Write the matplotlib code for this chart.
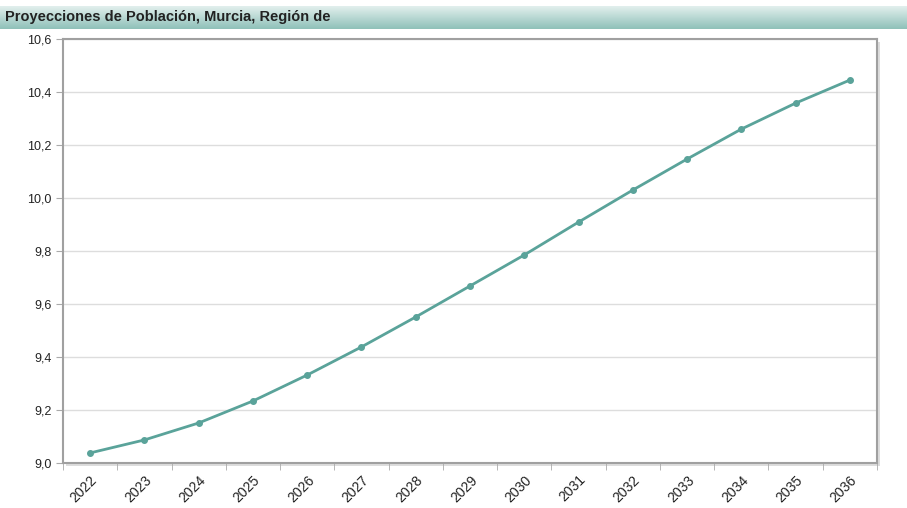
import matplotlib.pyplot as plt
import numpy as np
from matplotlib.colors import LinearSegmentedColormap

years = ["2022", "2023", "2024", "2025", "2026", "2027", "2028", "2029",
         "2030", "2031", "2032", "2033", "2034", "2035", "2036"]
# population, millions
population = [9.038, 9.087, 9.151, 9.234, 9.332, 9.438, 9.551, 9.668,
              9.785, 9.909, 10.030, 10.147, 10.260, 10.358, 10.445]

title = "Proyecciones de Población, Murcia, Región de"
line_color = "#5aa39a"

fig = plt.figure(figsize=(9.07, 5.08), dpi=100)

# header band with vertical gradient
hdr = fig.add_axes([0, 1 - 29 / 508, 1, 23 / 508])
grad = np.linspace(0, 1, 50).reshape(-1, 1)
cmap = LinearSegmentedColormap.from_list("hdr", ["#e2efed", "#8fc1b9"])
hdr.imshow(grad, aspect="auto", cmap=cmap, extent=[0, 1, 0, 1], origin="upper")
hdr.set_axis_off()
hdr.text(0.006, 0.5, title, fontsize=10.5, fontweight="bold", color="#222222",
         family="Liberation Sans", va="center", ha="left", transform=hdr.transAxes)

ax = fig.add_axes([63 / 907, 45 / 508, 814 / 907, 424 / 508])
x = np.arange(len(years))
ax.plot(x, population, color=line_color, lw=2, marker="o", ms=4,
        mec=line_color, mfc=line_color, zorder=3)

ax.set_xlim(-0.5, len(years) - 0.5)
ax.set_ylim(9.0, 10.6)
yt = np.arange(9.0, 10.61, 0.2)
ax.set_yticks(yt)
ax.set_yticklabels([f"{v:.1f}".replace(".", ",") for v in yt],
                   fontsize=9, family="Liberation Sans", color="#222222")
ax.set_xticks(x)
ax.set_xticklabels(years, rotation=45, ha="right", rotation_mode="anchor",
                   fontsize=10, family="Liberation Sans", color="#222222")
ax.set_xticks(np.arange(-0.5, len(years)), minor=True)
ax.tick_params(axis="x", which="major", length=0, pad=7)
ax.tick_params(axis="x", which="minor", length=5, color="#aaaaaa")
ax.tick_params(axis="y", length=5, color="#aaaaaa", pad=3)
ax.grid(axis="y", color="#dddddd", lw=1)
ax.set_axisbelow(True)
for s in ax.spines.values():
    s.set_color("#a0a0a0")
    s.set_linewidth(1.5)

# soft shadow right and bottom of the frame
fig.patches.append(plt.Rectangle((63 / 907 + 0.003, 45 / 508 - 0.006), 814 / 907, 424 / 508,
                                 transform=fig.transFigure, facecolor="#dddddd",
                                 edgecolor="none", zorder=-1))
ax.set_facecolor("white")

plt.savefig("out.png", dpi=100)
